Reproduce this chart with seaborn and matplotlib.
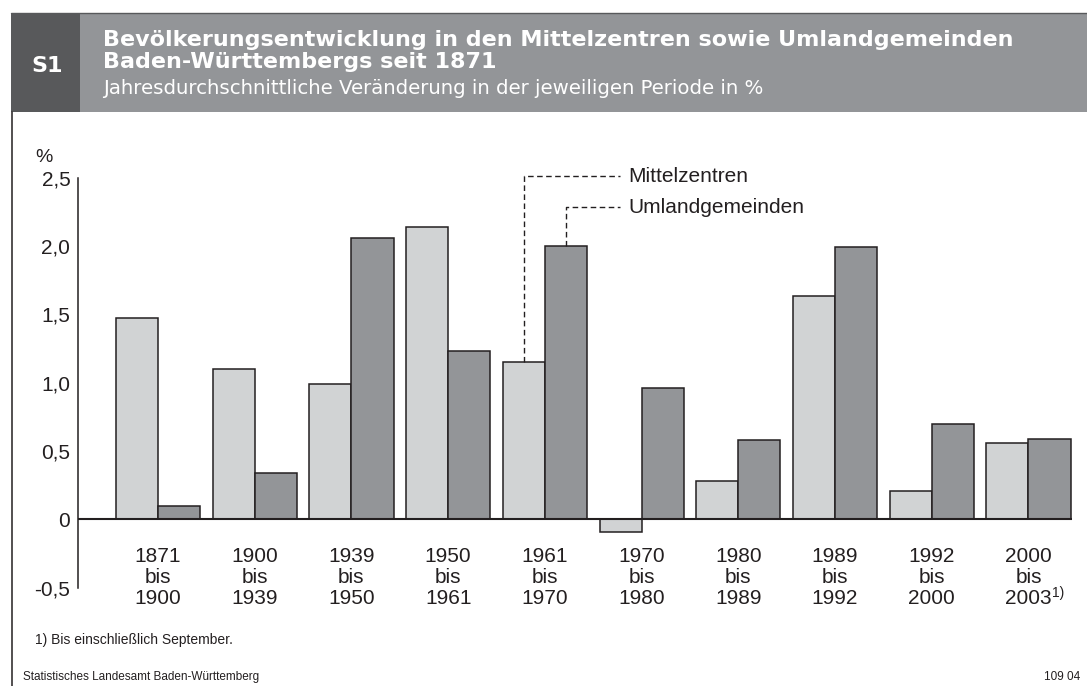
import matplotlib
matplotlib.use("Agg")
import matplotlib.pyplot as plt
from matplotlib.patches import Rectangle
from matplotlib.lines import Line2D
import seaborn as sns
import pandas as pd

# Daten (jahresdurchschnittliche Veraenderung in %)
perioden = ["1871\nbis\n1900", "1900\nbis\n1939", "1939\nbis\n1950", "1950\nbis\n1961",
            "1961\nbis\n1970", "1970\nbis\n1980", "1980\nbis\n1989", "1989\nbis\n1992",
            "1992\nbis\n2000", "2000\nbis\n2003"]
mittelzentren = [1.47, 1.10, 0.99, 2.14, 1.15, -0.09, 0.28, 1.63, 0.21, 0.56]
umland = [0.10, 0.34, 2.06, 1.23, 2.00, 0.96, 0.58, 1.99, 0.70, 0.59]
serien = ["Mittelzentren", "Umlandgemeinden"]
yticks = [-0.5, 0, 0.5, 1.0, 1.5, 2.0, 2.5]
ytick_labels = ["-0,5", "0", "0,5", "1,0", "1,5", "2,0", "2,5"]

df = pd.DataFrame({
    "periode": perioden * 2,
    "wert": mittelzentren + umland,
    "serie": [serien[0]] * len(perioden) + [serien[1]] * len(perioden),
})

W, H = 1087, 686
def fx(x):
    return x / W
def fy(y):
    return 1 - y / H

sns.set_style("white")
plt.rcParams["font.family"] = ["Liberation Sans", "DejaVu Sans"]

hell = "#d1d3d4"
dunkel = "#939598"
kante = "#231f20"

fig = plt.figure(figsize=(W / 100, H / 100), dpi=100)
ax = fig.add_axes([fx(78), fy(587.7), 994 / W, 410.2 / H])

breite = 0.87
sns.barplot(data=df, x="periode", y="wert", hue="serie", order=perioden, hue_order=serien,
            palette=[hell, dunkel], saturation=1, width=breite, edgecolor=kante,
            linewidth=1.1, legend=False, ax=ax, zorder=2)

ax.set_xlim(-0.827, 9.45)
ax.set_ylim(-0.5, 2.5)
ax.set_xlabel("")
ax.set_ylabel("")
for s in ["top", "right", "bottom"]:
    ax.spines[s].set_visible(False)
ax.spines["left"].set_color(kante)
ax.spines["left"].set_linewidth(1.1)
ax.set_yticks(yticks)
ax.set_yticklabels(ytick_labels)
ax.tick_params(axis="y", direction="in", length=11, width=1.1, color=kante,
               labelsize=15, pad=5.5, labelcolor=kante)
ax.tick_params(axis="x", length=0, labelbottom=False)
ax.axhline(0, color=kante, lw=1.5, zorder=3)

# Periodenbeschriftung
for i, p in enumerate(perioden):
    ax.text(i, -0.425, p, ha="center", va="center", fontsize=15, color=kante,
            linespacing=1.12)
ax.text(9.24, -0.54, "1)", ha="left", va="center", fontsize=10, color=kante)

# Legende mit Hinweislinien
i61 = perioden.index("1961\nbis\n1970")
x_m = i61 - breite / 4
x_u = i61 + breite / 4
leader = dict(color=kante, lw=1.0, ls=(0, (4, 2.5)), clip_on=False, zorder=4)
ax.plot([x_m, x_m, 4.78], [mittelzentren[i61], 2.51, 2.51], **leader)
ax.plot([x_u, x_u, 4.78], [umland[i61], 2.284, 2.284], **leader)
ax.text(4.86, 2.51, serien[0], ha="left", va="center", fontsize=15, color=kante)
ax.text(4.86, 2.284, serien[1], ha="left", va="center", fontsize=15, color=kante)

fig.text(fx(35), fy(158), "%", ha="left", va="center", fontsize=14, color=kante)

# Kopfzeile
fig.add_artist(Rectangle((fx(11), fy(111.7)), 1 - fx(11), (111.7 - 12.7) / H,
                         transform=fig.transFigure, facecolor=dunkel, edgecolor="none"))
fig.add_artist(Rectangle((fx(11), fy(111.7)), (80 - 11) / W, (111.7 - 12.7) / H,
                         transform=fig.transFigure, facecolor="#58595b", edgecolor="none"))
fig.add_artist(Line2D([fx(11), 1], [fy(12.7), fy(12.7)], transform=fig.transFigure,
                      color="#58595b", lw=1))
fig.add_artist(Line2D([fx(11.5), fx(11.5)], [fy(111.7), 0], transform=fig.transFigure,
                      color=kante, lw=1.1))
fig.text(fx(47), fy(72), "S1", ha="center", va="baseline", fontsize=16,
         fontweight="bold", color="white", family="DejaVu Sans")
fig.text(fx(103), fy(45.5), "Bevölkerungsentwicklung in den Mittelzentren sowie Umlandgemeinden",
         ha="left", va="baseline", fontsize=16, fontweight="bold", color="white",
         family="DejaVu Sans")
fig.text(fx(103), fy(67.5), "Baden-Württembergs seit 1871", ha="left", va="baseline",
         fontsize=16, fontweight="bold", color="white", family="DejaVu Sans")
fig.text(fx(103), fy(94), "Jahresdurchschnittliche Veränderung in der jeweiligen Periode in %",
         ha="left", va="baseline", fontsize=14.2, color="white", family="DejaVu Sans")

# Fusszeile
fig.text(fx(35), fy(640), "1) Bis einschließlich September.", ha="left", va="center",
         fontsize=10, color=kante)
fig.text(fx(23), fy(677), "Statistisches Landesamt Baden-Württemberg", ha="left",
         va="center", fontsize=8.5, color=kante)
fig.text(fx(1080), fy(677), "109 04", ha="right", va="center", fontsize=8.5, color=kante)

fig.savefig("out.png", dpi=100)
